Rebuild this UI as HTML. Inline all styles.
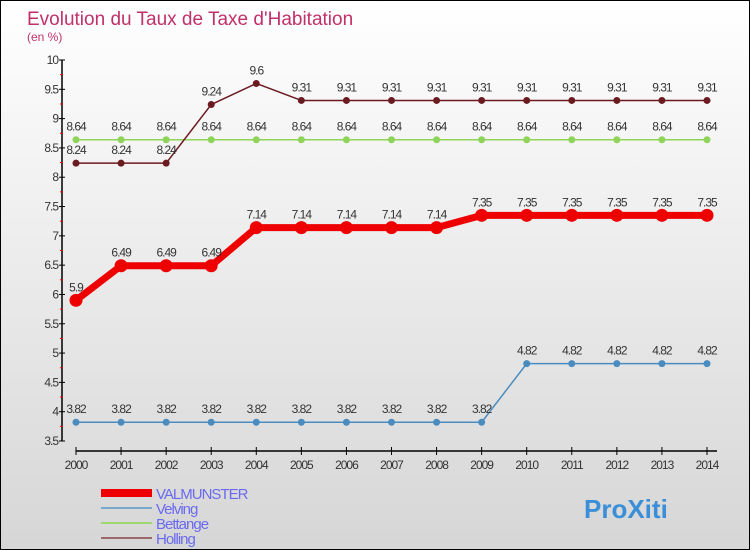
<!DOCTYPE html>
<html><head><meta charset="utf-8"><style>
body{margin:0;}
#c{width:748px;height:548px;border:1px solid #000;background:linear-gradient(#fff,#d6d6d6);position:relative;overflow:hidden;font-family:"Liberation Sans",sans-serif;}
</style></head><body>
<div id="c">
<svg id="s" width="748" height="548"></svg>
</div>
<script>
const years=[2000,2001,2002,2003,2004,2005,2006,2007,2008,2009,2010,2011,2012,2013,2014];
const valmunster=[5.9,6.49,6.49,6.49,7.14,7.14,7.14,7.14,7.14,7.35,7.35,7.35,7.35,7.35,7.35];
const velving=[3.82,3.82,3.82,3.82,3.82,3.82,3.82,3.82,3.82,3.82,4.82,4.82,4.82,4.82,4.82];
const bettange=[8.64,8.64,8.64,8.64,8.64,8.64,8.64,8.64,8.64,8.64,8.64,8.64,8.64,8.64,8.64];
const holling=[8.24,8.24,8.24,9.24,9.6,9.31,9.31,9.31,9.31,9.31,9.31,9.31,9.31,9.31,9.31];
const yTicks=[3.5,4,4.5,5,5.5,6,6.5,7,7.5,8,8.5,9,9.5,10];
const yLabels=["3.5","4","4.5","5","5.5","6","6.5","7","7.5","8","8.5","9","9.5","10"];
const ns="http://www.w3.org/2000/svg";
const s=document.getElementById('s');
const X=i=>75+i*(631/14);
const Y=v=>440-(v-3.5)*(381/6.5);
function el(t,a,p){const e=document.createElementNS(ns,t);for(const k in a)e.setAttribute(k,a[k]);(p||s).appendChild(e);return e;}
let t=el('text',{x:26,y:24,fill:'#c0306a','font-size':19});t.textContent="Evolution du Taux de Taxe d'Habitation";

t=el('text',{x:26,y:40,fill:'#c0306a','font-size':12});t.textContent="(en %)";

// y axis
let a=el('line',{x1:61,y1:Y(10),x2:61,y2:440,stroke:'#000','stroke-width':1.5});

yTicks.forEach((v,i)=>{
 el('line',{x1:58,x2:64,y1:Y(v),y2:Y(v),stroke:'#000'});
 if(i<yTicks.length-1)el('line',{x1:59,x2:62,y1:Y(v+0.25),y2:Y(v+0.25),stroke:'#e00'});
 const tx=el('text',{x:57,y:Y(v)+4,'text-anchor':'end','font-size':12,fill:'#333','letter-spacing':-1});tx.textContent=yLabels[i];
 
});
a=el('line',{x1:75,x2:716,y1:450,y2:450,stroke:'#000','stroke-width':1.5});

years.forEach((y,i)=>{
 el('line',{x1:X(i),x2:X(i),y1:446,y2:454,stroke:'#000'});
 const tx=el('text',{x:X(i),y:468,'text-anchor':'middle','font-size':12,fill:'#333','letter-spacing':-1});tx.textContent=y;
 
});
function series(d,color,w,r,name){
 const g=el('g',{});
 el('polyline',{points:d.map((v,i)=>X(i)+','+Y(v)).join(' '),fill:'none',stroke:color,'stroke-width':w,'stroke-linejoin':'round'},g);
 d.forEach((v,i)=>{
  const c=el('circle',{cx:X(i),cy:Y(v),r:r,fill:color},g);
  
  const tx=el('text',{x:X(i),y:Y(v)-9,'text-anchor':'middle','font-size':12,fill:'#333','letter-spacing':-1},g);tx.textContent=v;
  
 });
}
series(bettange,'#8fd45a',1.5,3.5,'bettange');
series(holling,'#6b1a20',1.5,3.5,'holling');
series(velving,'#4a8cc0',1.5,3.5,'velving');
series(valmunster,'#ee0000',7,6.5,'valmunster');
const leg=[['VALMUNSTER','#ee0000',8],['Velving','#78a8cc',2],['Bettange','#9ed870',2],['Holling','#9a6a6a',2]];
leg.forEach((l,i)=>{
 const y=492+i*15;
 const ln=el('line',{x1:100,x2:151,y1:y,y2:y,stroke:l[1],'stroke-width':l[2]});
 
 const tx=el('text',{x:155,y:y+6,'font-size':15,fill:'#6a6af0','letter-spacing':-1});tx.textContent=l[0];
 
});
t=el('text',{x:583,y:517,'font-size':26,'font-weight':'bold',fill:'#3a8fd8'});t.textContent="ProXiti";

</script>
</body></html>
